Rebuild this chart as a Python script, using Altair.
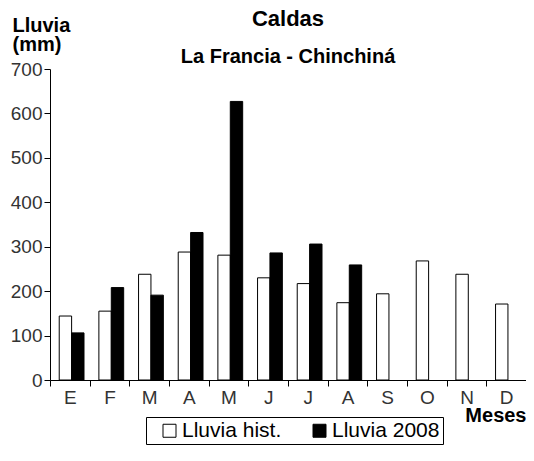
import altair as alt
import pandas as pd

months = ["Enero", "Febrero", "Marzo", "Abril", "Mayo", "Junio", "Julio",
          "Agosto", "Septiembre", "Octubre", "Noviembre", "Diciembre"]
lluvia_hist = [144, 155, 238, 288, 281, 230, 217, 174, 194, 268, 238, 171]
lluvia_2008 = [106, 208, 191, 332, 627, 286, 306, 259, None, None, None, None]
series = ["Lluvia hist.", "Lluvia 2008"]
y_ticks = [0, 100, 200, 300, 400, 500, 600, 700]

rows = []
for m, h, v in zip(months, lluvia_hist, lluvia_2008):
    rows.append({"mes": m, "serie": series[0], "valor": h})
    if v is not None:
        rows.append({"mes": m, "serie": series[1], "valor": v})
df = pd.DataFrame(rows)

FONT = "Liberation Sans"
W = 476

chart = alt.Chart(df).mark_bar(stroke="black", strokeWidth=1, opacity=1).encode(
    x=alt.X("mes:N", sort=months,
            scale=alt.Scale(paddingInner=0, paddingOuter=0),
            axis=alt.Axis(title="Meses", labelExpr="substring(datum.label, 0, 1)",
                          labelAngle=0, tickBand="extent", tickSize=6,
                          tickColor="black", domainColor="black",
                          labelFont=FONT, labelFontSize=19, labelColor="#333",
                          labelPadding=2,
                          titleFont=FONT, titleFontSize=20, titleFontWeight="bold",
                          titleColor="black", titleX=W, titleY=41,
                          titleAlign="right", titleBaseline="alphabetic")),
    xOffset=alt.XOffset("serie:N", sort=series,
                        scale=alt.Scale(paddingInner=0, paddingOuter=0.6, align=0.62)),
    y=alt.Y("valor:Q", scale=alt.Scale(domain=[0, 700], nice=False),
            axis=alt.Axis(title=["Lluvia", "(mm)"], values=y_ticks, grid=False,
                          tickSize=6, tickColor="black", domainColor="black",
                          labelFont=FONT, labelFontSize=19, labelColor="#333",
                          labelPadding=2,
                          titleFont=FONT, titleFontSize=20, titleFontWeight="bold",
                          titleColor="black", titleAngle=0, titleX=-38, titleY=-38,
                          titleAlign="left", titleBaseline="alphabetic",
                          titleLineHeight=19)),
    color=alt.Color("serie:N", sort=series,
                    scale=alt.Scale(domain=series, range=["white", "black"]),
                    legend=alt.Legend(title=None, orient="none", direction="horizontal",
                                      legendX=96, legendY=348,
                                      strokeColor="black", padding=3,
                                      symbolType="square", symbolSize=169,
                                      symbolStrokeColor="black", symbolStrokeWidth=1,
                                      symbolOffset=10, labelOffset=2,
                                      columnPadding=17,
                                      labelFont=FONT, labelFontSize=21,
                                      labelColor="black")),
).properties(
    width=W, height=311,
    title=alt.Title("Caldas", subtitle="La Francia - Chinchiná",
                    font=FONT, fontSize=22, fontWeight="bold", color="black",
                    subtitleFont=FONT, subtitleFontSize=20, subtitleFontWeight="bold",
                    subtitleColor="black", anchor="middle", subtitlePadding=16,
                    offset=-53),
    autosize=alt.AutoSizeParams(type="none"),
    padding={"left": 42, "top": 61, "right": 0, "bottom": 65},
).configure_view(stroke=None)

chart.save("out.html", embed_options={"renderer": "svg", "actions": False})
